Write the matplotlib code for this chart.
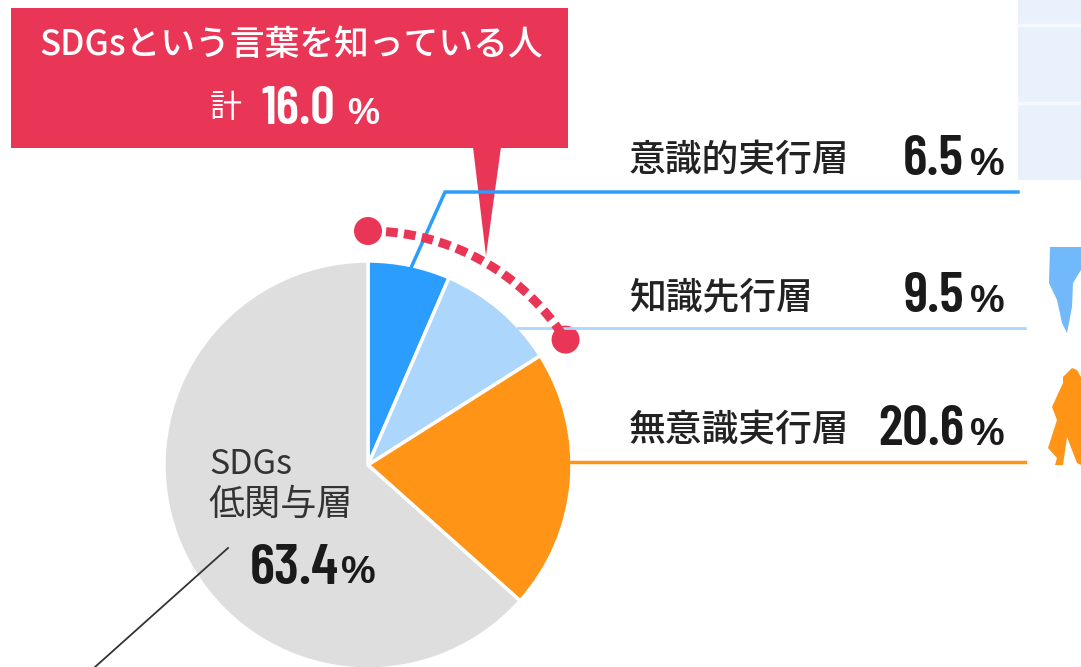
import numpy as np
import matplotlib
matplotlib.use("Agg")
import matplotlib.pyplot as plt
from matplotlib.patches import Polygon, Rectangle, Circle

JP = ['Noto Sans CJK JP', 'DejaVu Sans']
NUM = ['Barlow Condensed', 'Saira ExtraCondensed', 'Asap Condensed', 'Liberation Sans']
PCT = ['Liberation Sans', 'DejaVu Sans']

labels = ['意識的実行層', '知識先行層', '無意識実行層', 'SDGs低関与層']
shares = [6.5, 9.5, 20.6, 63.4]
share_text = ['6.5', '9.5', '20.6', '63.4']
colors = ['#2a9dff', '#acd6fb', '#ff9416', '#dedede']
known_total = '16.0'

RED = '#ea3656'
cx, cy, rad = 368, 465, 204

fig = plt.figure(figsize=(10.81, 6.67), dpi=100)
ax = fig.add_axes([0, 0, 1, 1])

# pie, angles run clockwise from the top because y is flipped
ax.pie(shares, colors=colors, center=(cx, cy), radius=rad, startangle=-90,
       counterclock=True, wedgeprops={'edgecolor': 'white', 'linewidth': 2.5})
ax.set_xlim(0, 1081)
ax.set_ylim(667, 0)
ax.set_aspect('auto')
ax.axis('off')

# pale blocks top right
ax.add_patch(Rectangle((1018, 0), 63, 180, color='#e9f2fc', lw=0))
ax.plot([1018, 1081], [25, 25], color='#f6faff', lw=2.5)
ax.plot([1018, 1081], [103, 103], color='#f6faff', lw=2.5)

# leader lines
ax.plot([410, 445, 1018], [270, 192, 192], color=colors[0], lw=2.5, solid_joinstyle='miter')
ax.plot([518, 1025], [328, 328], color=colors[1], lw=2)
ax.plot([570, 1025], [462, 462], color=colors[2], lw=2.5)
ax.plot([228, 95], [548, 667], color='#333333', lw=1.3)

# callout
ax.add_patch(Rectangle((11, 8), 557, 140, color=RED, lw=0))
ax.add_patch(Polygon([(473, 147), (501, 147), (486, 256)], color=RED, lw=0))
ax.text(291, 45, 'SDGsという言葉を知っている人', color='white', fontsize=25, family=JP,
        ha='center', va='center', fontweight='medium')
ax.text(226, 108, '計', color='white', fontsize=23, family=JP, ha='center', va='center')
ax.text(298, 110, known_total, color='white', fontsize=39, family=NUM, fontweight='semibold',
        ha='center', va='center')
ax.text(363, 114, '%', color='white', fontsize=26, family=PCT, fontweight='bold',
        ha='center', va='center')

# dashed arc over the two "known" slices
arc_r = 234
end = np.deg2rad(sum(shares[:2]) * 3.6)
t = np.linspace(0, end, 80)
ax.plot(cx + arc_r * np.sin(t), cy - arc_r * np.cos(t), color=RED, lw=6.5,
        dashes=(1.3, 0.7), dash_capstyle='butt')
ax.add_patch(Circle((cx, cy - arc_r), 14, color=RED, lw=0))
ax.add_patch(Circle((cx + arc_r * np.sin(end), cy - arc_r * np.cos(end)), 14, color=RED, lw=0))

# right hand labels
rows_y = [163, 300, 433]
for name, val, y in zip(labels[:3], share_text[:3], rows_y):
    ax.text(629, y - 3, name, color='#222222', fontsize=26.5, family=JP, ha='left', va='center',
            fontweight='medium')
    ax.text(964, y - 3, val, color='#1a1a1a', fontsize=41, family=NUM, fontweight='semibold',
            ha='right', va='center')
    ax.text(987, y + 2, '%', color='#1a1a1a', fontsize=28, family=PCT, fontweight='bold',
            ha='center', va='center')

# label inside the big slice
ax.text(209, 464, 'SDGs', color='#333333', fontsize=24.5, family=JP, ha='left', va='center')
ax.text(208, 505, '低関与層', color='#333333', fontsize=26, family=JP, ha='left', va='center')
ax.text(250, 569, share_text[3], color='#1a1a1a', fontsize=42, family=NUM, fontweight='semibold',
        ha='left', va='center')
ax.text(358, 573, '%', color='#1a1a1a', fontsize=28, family=PCT, fontweight='bold',
        ha='center', va='center')

# silhouettes at the right edge
ax.add_patch(Polygon([(1050, 247), (1081, 247), (1081, 270), (1073, 283), (1072, 307),
                      (1067, 333), (1062, 323), (1057, 300), (1049, 283)],
                     color='#72b9fb', lw=0))
ax.add_patch(Polygon([(1072, 368), (1077, 370), (1081, 377), (1081, 465), (1077, 463),
                      (1067, 437), (1063, 465), (1055, 465), (1057, 458), (1048, 448),
                      (1057, 420), (1052, 407), (1063, 383), (1063, 377)],
                     color=colors[2], lw=0))

fig.savefig("out.png", dpi=100)
